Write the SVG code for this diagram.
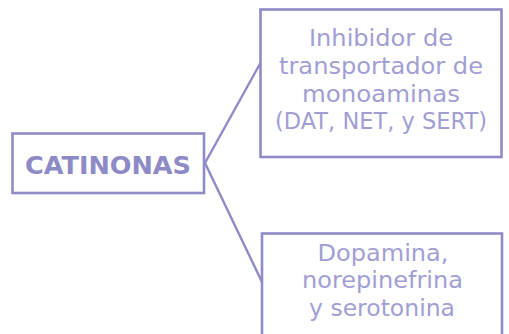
<svg xmlns="http://www.w3.org/2000/svg" width="509" height="334" viewBox="0 0 509 334">
<style>
.box{fill:#fff;stroke:#8f8bc7;stroke-width:2.6}
.ln{fill:none;stroke:#8f8bc7;stroke-width:2.4}
.t{font-family:"DejaVu Sans",sans-serif;font-size:23.5px;fill:#a29ed4;text-anchor:middle}
.b{font-family:"DejaVu Sans",sans-serif;font-size:25px;font-weight:bold;fill:#8e8ac6;text-anchor:middle}
</style>
<rect width="509" height="334" fill="#fff"/>
<g id="connectors">
<polyline class="ln" points="261,62 205,163 262,282"/>
</g>
<g id="catinonas">
<rect class="box" x="12.5" y="133.5" width="191.5" height="59.5"/>
<text class="b" x="108" y="174" textLength="166" lengthAdjust="spacingAndGlyphs">CATINONAS</text>
</g>
<g id="inhibidor">
<rect class="box" x="260.5" y="9.5" width="241" height="147.5"/>
<text class="t" x="381" y="46" textLength="144" lengthAdjust="spacingAndGlyphs">Inhibidor de</text>
<text class="t" x="381" y="74" textLength="204" lengthAdjust="spacingAndGlyphs">transportador de</text>
<text class="t" x="381" y="102" textLength="158" lengthAdjust="spacingAndGlyphs">monoaminas</text>
<text class="t" x="381" y="129" textLength="212" lengthAdjust="spacingAndGlyphs">(DAT, NET, y SERT)</text>
</g>
<g id="dopamina">
<rect class="box" x="262" y="233.5" width="240" height="110"/>
<text class="t" x="383" y="261" textLength="131" lengthAdjust="spacingAndGlyphs">Dopamina,</text>
<text class="t" x="382.5" y="288" textLength="161" lengthAdjust="spacingAndGlyphs">norepinefrina</text>
<text class="t" x="382" y="316" textLength="146" lengthAdjust="spacingAndGlyphs">y serotonina</text>
</g>
</svg>
